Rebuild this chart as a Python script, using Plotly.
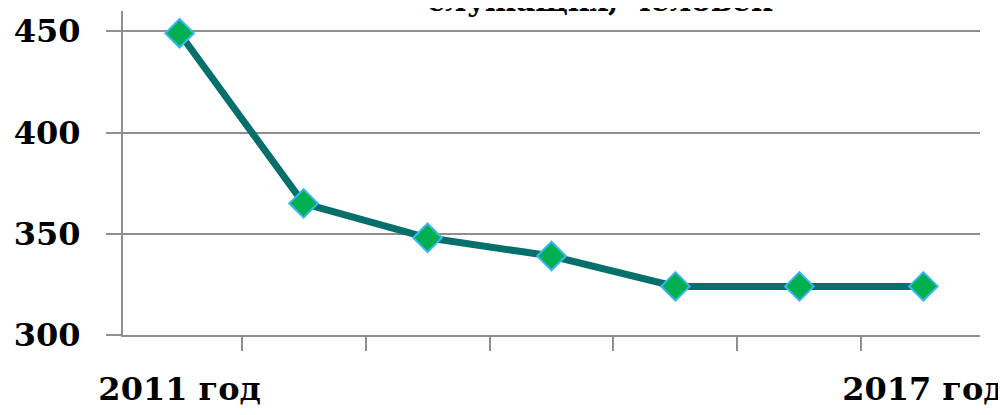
import plotly.graph_objects as go

years = ["2011 год", "2012 год", "2013 год", "2014 год", "2015 год", "2016 год", "2017 год"]
staff = [449, 365, 348, 339, 324, 324, 324]
y_ticks = [300, 350, 400, 450]
title_tail = "служащих, человек"

# Excel only had room for the first and last category labels
shown = [y if i in (0, len(years) - 1) else "" for i, y in enumerate(years)]

font = dict(family="DejaVu Serif", size=32, color="#000000")
grid = "#8f8f8f"

fig = go.Figure(go.Scatter(
    x=years,
    y=staff,
    mode="lines+markers",
    line=dict(color="#05706b", width=7),
    marker=dict(symbol="diamond", size=22, color="#00b050",
                line=dict(color="#3cb6f0", width=2)),
    cliponaxis=False,
))

# page body keeps its default 8px margin, so the figure is a bit smaller
fig.update_layout(
    width=998, height=407,
    margin=dict(l=115, r=26, t=3, b=80),
    paper_bgcolor="white", plot_bgcolor="white",
    showlegend=False,
    font=font,
)
# the chart title sits above the visible frame, only its last line peeks in
fig.add_annotation(
    text="<b>" + title_tail + "</b>",
    xref="paper", yref="paper", x=0.557, y=1.0, yanchor="bottom",
    yshift=-9, showarrow=False, font=dict(size=30),
)
fig.update_xaxes(
    type="category",
    tickvals=years, ticktext=["<b>" + s + "</b>" if s else "" for s in shown],
    tickangle=0, automargin=False,
    tickson="boundaries", ticks="outside", ticklen=14, tickwidth=2, tickcolor=grid,
    showline=True, linecolor=grid, linewidth=2,
    showgrid=False, ticklabelstandoff=25,
)
fig.update_yaxes(
    range=[300, 460], automargin=False,
    tickvals=y_ticks, ticktext=["<b>%d</b>" % v for v in y_ticks],
    ticks="outside", ticklen=15, tickwidth=2, tickcolor=grid,
    showgrid=True, gridcolor=grid, gridwidth=2,
    showline=True, linecolor=grid, linewidth=2,
    zeroline=False, ticklabelstandoff=19,
)

fig.write_html("out.html")
